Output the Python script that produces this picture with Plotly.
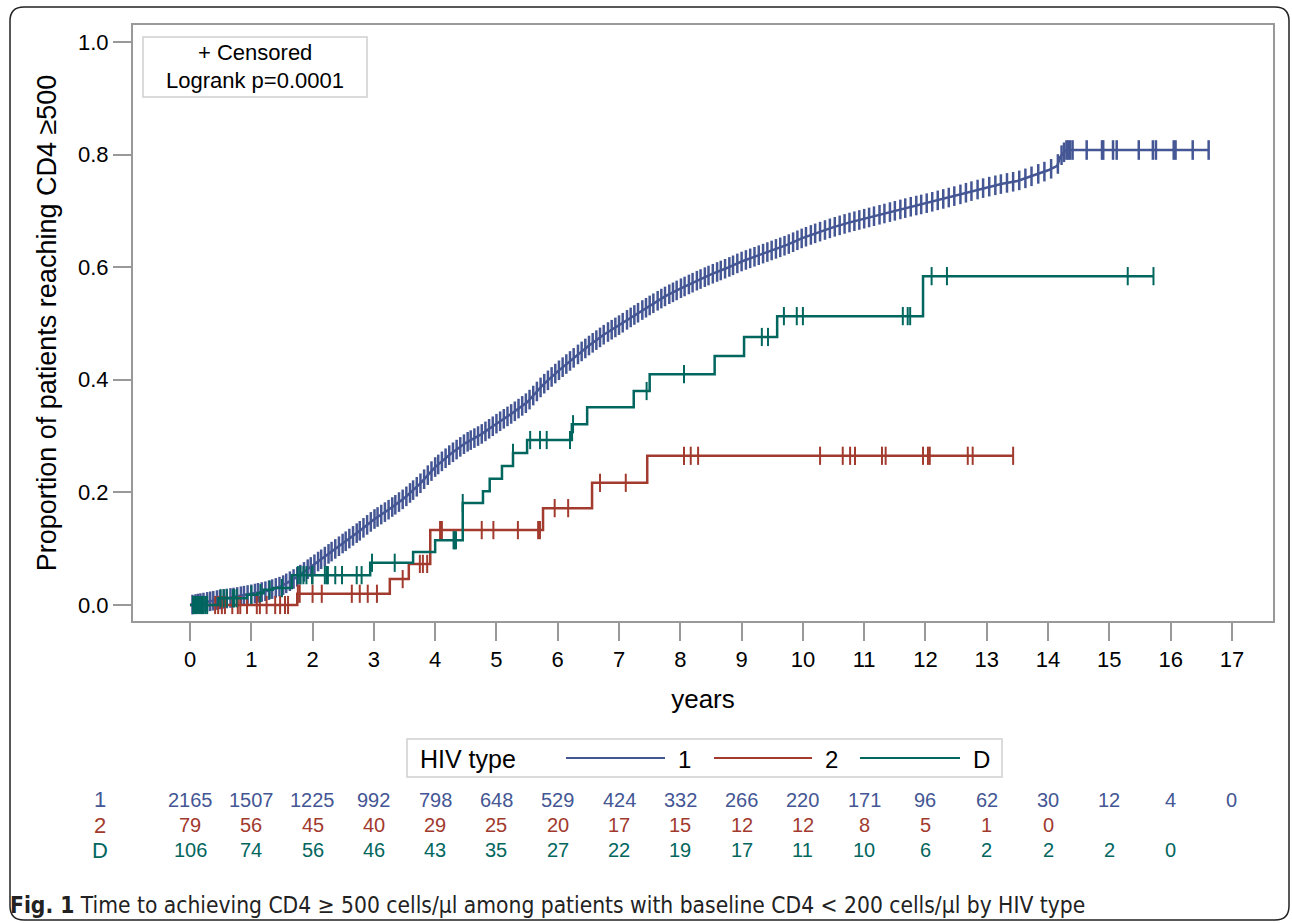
import numpy as np
import plotly.graph_objects as go

# ---------------- data ----------------
years_ticks = list(range(0, 18))

blue_t = [0, 0.1, 0.25, 0.5, 0.75, 1.0, 1.25, 1.5, 1.75, 2.0, 2.25, 2.5, 2.75, 3.0, 3.25, 3.5, 3.75,
          4.0, 4.25, 4.5, 4.75, 5.0, 5.25, 5.5, 5.75, 6.0, 6.25, 6.5, 6.75, 7.0, 7.25, 7.5, 7.75,
          8.0, 8.25, 8.5, 8.75, 9.0, 9.25, 9.5, 9.75, 10.0, 10.25, 10.5, 10.75, 11.0, 11.25, 11.5,
          11.75, 12.0, 12.25, 12.5, 12.75, 13.0, 13.25, 13.5, 13.75, 14.0, 14.15, 14.2, 14.25, 14.3, 16.62]
blue_p = [0, 0.002, 0.005, 0.010, 0.014, 0.019, 0.025, 0.034, 0.05, 0.07, 0.09, 0.11, 0.13, 0.152,
          0.17, 0.19, 0.215, 0.245, 0.268, 0.288, 0.303, 0.322, 0.34, 0.36, 0.39, 0.415, 0.438,
          0.46, 0.48, 0.497, 0.515, 0.532, 0.548, 0.562, 0.575, 0.587, 0.598, 0.61, 0.62, 0.63,
          0.64, 0.652, 0.662, 0.671, 0.679, 0.686, 0.693, 0.70, 0.707, 0.713, 0.72, 0.727, 0.735,
          0.742, 0.748, 0.753, 0.762, 0.772, 0.78, 0.796, 0.803, 0.808, 0.808]
blue_cens = [0.04, 0.09, 0.13, 0.17, 0.22, 0.28, 0.33, 0.38, 0.44, 0.49, 0.55, 0.6, 0.66, 0.71, 0.77, 0.83, 0.88, 0.94,
             1.0, 1.06, 1.11, 1.17, 1.23, 1.29, 1.34, 1.4, 1.46, 1.52, 1.57, 1.63, 1.69, 1.75, 1.8, 1.86, 1.92, 1.97,
             2.03, 2.09, 2.14, 2.2, 2.26, 2.31, 2.37, 2.43, 2.49, 2.54, 2.6, 2.66, 2.72, 2.77, 2.83, 2.89, 2.95,
             3.01, 3.06, 3.12, 3.18, 3.24, 3.3, 3.35, 3.41, 3.47, 3.53, 3.59, 3.64, 3.7, 3.76, 3.82, 3.88, 3.94,
             4.0, 4.05, 4.11, 4.17, 4.23, 4.29, 4.35, 4.41, 4.47, 4.53, 4.58, 4.64, 4.7, 4.76, 4.82, 4.88, 4.94,
             5.0, 5.06, 5.12, 5.18, 5.24, 5.3, 5.36, 5.42, 5.48, 5.54, 5.6, 5.66, 5.72, 5.78, 5.84, 5.9, 5.96,
             6.02, 6.08, 6.14, 6.2, 6.26, 6.33, 6.39, 6.45, 6.51, 6.57, 6.63, 6.69, 6.75, 6.82, 6.88, 6.94,
             7.0, 7.06, 7.13, 7.19, 7.25, 7.31, 7.38, 7.44, 7.5, 7.56, 7.63, 7.69, 7.75, 7.82, 7.88, 7.94,
             8.01, 8.07, 8.14, 8.2, 8.27, 8.33, 8.4, 8.46, 8.53, 8.6, 8.66, 8.73, 8.8, 8.86, 8.93,
             9.0, 9.07, 9.14, 9.21, 9.28, 9.35, 9.42, 9.49, 9.56, 9.63, 9.7, 9.77, 9.84, 9.91, 9.98,
             10.05, 10.13, 10.2, 10.28, 10.36, 10.44, 10.52, 10.6, 10.68, 10.76, 10.84, 10.92,
             11.0, 11.08, 11.16, 11.25, 11.33, 11.42, 11.5, 11.59, 11.67, 11.76, 11.85, 11.93,
             12.02, 12.11, 12.2, 12.29, 12.38, 12.47, 12.57, 12.66, 12.75, 12.85, 12.94,
             13.04, 13.14, 13.23, 13.33, 13.43, 13.53, 13.63, 13.73, 13.84, 13.94,
             14.05, 14.16, 14.22, 14.26, 14.3, 14.33, 14.36, 14.4, 14.63, 14.88, 14.9, 15.06, 15.12,
             15.48, 15.71, 15.76, 16.05, 16.08, 16.36, 16.62]

red_t = [0, 1.75, 3.26, 3.57, 3.92, 5.76, 6.56, 7.46, 13.43]
red_p = [0, 0.02, 0.046, 0.073, 0.133, 0.172, 0.217, 0.265, 0.265]
red_cens = [0.41, 0.46, 0.52, 0.57, 0.69, 0.78, 0.82, 0.93, 1.09, 1.14, 1.25, 1.39, 1.47, 1.55, 1.6,
            1.76, 1.79, 2.0, 2.15, 2.64, 2.77, 2.9, 3.05, 3.47, 3.75, 3.8, 3.87, 4.08, 4.11, 4.76,
            4.95, 5.35, 5.68, 5.71, 5.95, 6.17, 6.69, 7.11, 8.06, 8.17, 8.29, 10.28, 10.65, 10.77,
            10.85, 11.29, 11.35, 11.96, 12.04, 12.07, 12.69, 12.77, 13.43]

green_t = [0, 0.46, 0.93, 1.1, 1.2, 1.35, 1.66, 2.94, 3.64, 4.0, 4.45, 4.78, 4.89, 5.09, 5.27, 5.5,
           6.23, 6.48, 7.24, 7.5, 8.56, 9.04, 9.58, 11.96, 15.72]
green_p = [0, 0.012, 0.018, 0.021, 0.027, 0.03, 0.053, 0.075, 0.094, 0.115, 0.181, 0.202, 0.224,
           0.247, 0.27, 0.293, 0.321, 0.351, 0.38, 0.41, 0.442, 0.476, 0.513, 0.584, 0.584]
green_cens = [0.05, 0.08, 0.1, 0.12, 0.15, 0.18, 0.2, 0.22, 0.25, 0.28, 0.5, 0.55, 0.6, 0.7, 0.72,
              0.76, 1.0, 1.15, 1.3, 1.5, 1.76, 1.8, 1.85, 1.9, 1.99, 2.0, 2.2, 2.23, 2.25, 2.37,
              2.48, 2.72, 2.8, 2.97, 3.34, 4.3, 4.32, 4.34, 4.45, 5.27, 5.55, 5.71, 5.82, 6.2,
              6.25, 7.45, 8.06, 9.33, 9.43, 9.69, 9.9, 10.0, 11.63, 11.71, 11.75, 12.1, 12.35,
              15.3, 15.72]

risk_labels = ["1", "2", "D"]
risk_1 = [2165, 1507, 1225, 992, 798, 648, 529, 424, 332, 266, 220, 171, 96, 62, 30, 12, 4, 0]
risk_2 = [79, 56, 45, 40, 29, 25, 20, 17, 15, 12, 12, 8, 5, 1, 0]
risk_D = [106, 74, 56, 46, 43, 35, 27, 22, 19, 17, 11, 10, 6, 2, 2, 2, 0]

# ---------------- styling ----------------
C1, C2, C3 = "#445694", "#A23A2E", "#01665E"
FONT = "Liberation Sans, Arial, sans-serif"
W, H = 1292, 923
L, R, T, B = 133, 1273, 25, 621


def px_x(px):
    return (px - L) / (R - L)


def px_y(py):
    return (B - py) / (B - T)


def step_value(ts, ps, t):
    idx = np.searchsorted(np.array(ts), np.array(t), side="right") - 1
    return np.array(ps)[idx]


fig = go.Figure()

# blue (HIV-1)
fig.add_trace(go.Scatter(x=blue_t, y=blue_p, mode="lines", line=dict(color=C1, width=2.5),
                         hoverinfo="skip", showlegend=False))
fig.add_trace(go.Scatter(x=blue_cens, y=np.interp(blue_cens, blue_t, blue_p), mode="markers",
                         marker=dict(symbol="line-ns", size=14, line=dict(width=2.5, color=C1)),
                         hoverinfo="skip", showlegend=False))
# red (HIV-2)
fig.add_trace(go.Scatter(x=red_t, y=red_p, mode="lines", line=dict(color=C2, width=2.5, shape="hv"),
                         hoverinfo="skip", showlegend=False))
fig.add_trace(go.Scatter(x=red_cens, y=step_value(red_t, red_p, red_cens), mode="markers",
                         marker=dict(symbol="line-ns", size=13, line=dict(width=2, color=C2)),
                         hoverinfo="skip", showlegend=False))
# green (D)
fig.add_trace(go.Scatter(x=green_t, y=green_p, mode="lines", line=dict(color=C3, width=2.5, shape="hv"),
                         hoverinfo="skip", showlegend=False))
fig.add_trace(go.Scatter(x=green_cens, y=step_value(green_t, green_p, green_cens), mode="markers",
                         marker=dict(symbol="line-ns", size=13, line=dict(width=2, color=C3)),
                         hoverinfo="skip", showlegend=False))

shapes = []
annotations = []

# inset box: censored / logrank
shapes.append(dict(type="rect", xref="paper", yref="paper", x0=px_x(143), x1=px_x(367),
                   y0=px_y(97), y1=px_y(37), line=dict(color="#d0d0d0", width=1.5)))
annotations.append(dict(xref="paper", yref="paper", x=px_x(255), y=px_y(52), text="+ Censored",
                        xanchor="center", yanchor="middle",
                        showarrow=False, font=dict(family=FONT, size=22, color="black")))
annotations.append(dict(xref="paper", yref="paper", x=px_x(255), y=px_y(81), text="Logrank p=0.0001",
                        xanchor="center", yanchor="middle",
                        showarrow=False, font=dict(family=FONT, size=22, color="black")))

# bottom legend
shapes.append(dict(type="rect", xref="paper", yref="paper", x0=px_x(407), x1=px_x(1002),
                   y0=px_y(777), y1=px_y(739), line=dict(color="#d0d0d0", width=1.5)))
annotations.append(dict(xref="paper", yref="paper", x=px_x(418), y=px_y(759), text="HIV type",
                        xanchor="left", yanchor="middle",
                        showarrow=False, font=dict(family=FONT, size=25, color="black")))
for (x0, x1, lab, col) in [(566, 665, "1", C1), (714, 812, "2", C2), (860, 960, "D", C3)]:
    shapes.append(dict(type="line", xref="paper", yref="paper", x0=px_x(x0), x1=px_x(x1),
                       y0=px_y(758), y1=px_y(758), line=dict(color=col, width=2)))
    annotations.append(dict(xref="paper", yref="paper", x=px_x(x1 + 11), y=px_y(759), text=lab,
                            xanchor="left", yanchor="middle",
                            showarrow=False, font=dict(family=FONT, size=24, color="black")))

# at-risk table
for row_y, lab, vals, col in [(800, risk_labels[0], risk_1, C1), (825, risk_labels[1], risk_2, C2),
                              (850, risk_labels[2], risk_D, C3)]:
    annotations.append(dict(xref="paper", yref="paper", x=px_x(100), y=px_y(row_y), text=lab,
                            xanchor="center", yanchor="middle",
                            showarrow=False, font=dict(family=FONT, size=22, color=col)))
    for i, v in enumerate(vals):
        annotations.append(dict(xref="x", yref="paper", x=years_ticks[i], y=px_y(row_y), text=str(v),
                                xanchor="center", yanchor="middle",
                                showarrow=False, font=dict(family=FONT, size=20, color=col)))

# caption
annotations.append(dict(xref="paper", yref="paper", x=px_x(8), y=px_y(905), xanchor="left",
                        yanchor="middle",
                        text="<b>Fig. 1</b> Time to achieving CD4 ≥ 500 cells/μl among patients with baseline CD4 &lt; 200 cells/μl by HIV type",
                        showarrow=False,
                        font=dict(family="DejaVu Sans Condensed, DejaVu Sans, sans-serif",
                                  size=22.6, color="#222222")))

# outer rounded border
x0, x1, y0, y1, r = 10, 1289, 7, 920, 14
rx, ry = r / (R - L), r / (B - T)
X0, X1, Y0, Y1 = px_x(x0), px_x(x1), px_y(y0), px_y(y1)
path = (f"M {X0+rx},{Y0} L {X1-rx},{Y0} Q {X1},{Y0} {X1},{Y0-ry} L {X1},{Y1+ry} "
        f"Q {X1},{Y1} {X1-rx},{Y1} L {X0+rx},{Y1} Q {X0},{Y1} {X0},{Y1+ry} L {X0},{Y0-ry} "
        f"Q {X0},{Y0} {X0+rx},{Y0} Z")
shapes.append(dict(type="path", xref="paper", yref="paper", path=path, line=dict(color="#222222", width=1.5)))

fig.update_layout(
    width=W, height=H,
    margin=dict(l=L, r=W - R, t=T, b=H - B),
    paper_bgcolor="white", plot_bgcolor="white",
    font=dict(family=FONT, color="black"),
    showlegend=False,
    shapes=shapes, annotations=annotations,
    xaxis=dict(range=[-0.93, 17.67], tickmode="array", tickvals=years_ticks,
               ticks="outside", ticklen=18, tickwidth=1.5, tickcolor="#999999",
               showline=True, linecolor="#999999", linewidth=2, mirror=True,
               showgrid=False, zeroline=False, tickfont=dict(size=22, color="black"),
               title=dict(text="years", font=dict(size=26, color="black"), standoff=18)),
    yaxis=dict(range=[-0.0284, 1.030], tickmode="array", tickvals=[0, 0.2, 0.4, 0.6, 0.8, 1.0],
               tickformat=".1f",
               ticks="outside", ticklen=18, tickwidth=1.5, tickcolor="#999999",
               showline=True, linecolor="#999999", linewidth=2, mirror=True,
               showgrid=False, zeroline=False, tickfont=dict(size=22, color="black"),
               title=dict(text="Proportion of patients reaching CD4 ≥500",
                          font=dict(size=27, color="black"), standoff=14)),
)

fig.write_html("out.html", config={"displayModeBar": False},
               post_script="document.body.style.margin='0';document.body.style.overflow='hidden';")
